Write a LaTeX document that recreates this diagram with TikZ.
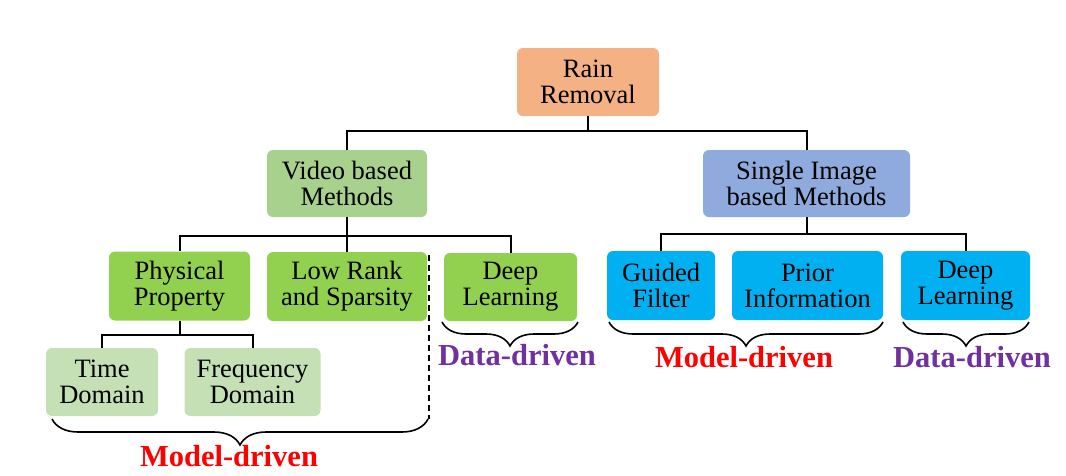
\documentclass[tikz,border=0pt]{standalone}
\usepackage{fontspec}
\setmainfont{Liberation Serif}
\usetikzlibrary{decorations.pathreplacing}
\definecolor{cRain}{HTML}{F4B183}
\definecolor{cVideo}{HTML}{A9D18E}
\definecolor{cSingle}{HTML}{8FAADC}
\definecolor{cGreen}{HTML}{92D050}
\definecolor{cLight}{HTML}{C5E0B4}
\definecolor{cBlue}{HTML}{00B0F0}
\definecolor{cPurple}{HTML}{7030A0}
\definecolor{cRed}{HTML}{FF0000}
\tikzset{
  box/.style={rectangle, rounded corners=6pt, inner sep=0pt, align=center,
    font=\fontsize{26.5}{26}\selectfont},
  conn/.style={draw=black, line width=2pt},
  bracel/.style={decorate, decoration={brace, mirror, amplitude=#1}, line width=1.6pt},
  lbl/.style={font=\fontsize{30.5}{32}\selectfont\bfseries, inner sep=0pt}
}
\begin{document}
\begin{tikzpicture}[x=1pt,y=-1pt]
\useasboundingbox (0,0) rectangle (1066,475);
% nodes
\node[box, fill=cRain, minimum width=142pt, minimum height=68pt] (rain) at (588,82) {Rain\\Removal};
\node[box, fill=cVideo, minimum width=160pt, minimum height=67pt] (video) at (347,183.5) {Video based\\Methods};
\node[box, fill=cSingle, minimum width=207pt, minimum height=67pt] (single) at (806.5,183.5) {Single Image\\based Methods};
\node[box, fill=cGreen, minimum width=141pt, minimum height=69pt] (phys) at (179.5,286) {Physical\\Property};
\node[box, fill=cGreen, minimum width=160pt, minimum height=69pt] (lowrank) at (347,286.5) {Low Rank\\and Sparsity};
\node[box, fill=cGreen, minimum width=133pt, minimum height=68pt] (dl1) at (510.5,287) {Deep\\Learning};
\node[box, fill=cLight, minimum width=112pt, minimum height=68pt] (time) at (102,382) {Time\\Domain};
\node[box, fill=cLight, minimum width=136pt, minimum height=68pt] (freq) at (252.5,382) {Frequency\\Domain};
\node[box, fill=cBlue, minimum width=108pt, minimum height=69pt] (guided) at (661,285.5) {Guided\\Filter};
\node[box, fill=cBlue, minimum width=151pt, minimum height=69pt] (prior) at (807.5,285.5) {Prior\\Information};
\node[box, fill=cBlue, minimum width=129pt, minimum height=69pt] (dl2) at (965.5,285.5) {Deep\\Learning};
% connectors
\draw[conn] (rain.south) -- (588,131) -| (video.north);
\draw[conn] (588,131) -| (single.north);
\draw[conn] (video.south) -- (347,236) -| (phys.north);
\draw[conn] (347,236) -| (dl1.north);
\draw[conn] (347,236) -- (lowrank.north);
\draw[conn] (single.south) -- (806.5,234) -| (guided.north);
\draw[conn] (806.5,234) -| (dl2.north);
\draw[conn] (phys.south) -- (179.5,335) -| (time.north);
\draw[conn] (179.5,335) -| (freq.north);
% dashed separator
\coordinate (dtop) at (429,255);
\coordinate (dbot) at (429,419);
\draw[line width=1.6pt, dashed, dash pattern=on 6pt off 4pt] (dtop) -- (dbot);
% braces
\coordinate (b1l) at (52,419);
\coordinate (b1r) at (428,419);
\draw[bracel=26pt] (b1l) -- (b1r);
\node[lbl, text=cRed] (md1) at (229,456) {Model-driven};
\coordinate (b2l) at (442,322);
\coordinate (b2r) at (578,322);
\draw[bracel=24pt] (b2l) -- (b2r);
\node[lbl, text=cPurple] (dd1) at (517,355) {Data-driven};
\coordinate (b3l) at (609,322);
\coordinate (b3r) at (883,322);
\draw[bracel=24pt] (b3l) -- (b3r);
\node[lbl, text=cRed] (md2) at (744,357) {Model-driven};
\coordinate (b4l) at (903,322);
\coordinate (b4r) at (1029,322);
\draw[bracel=24pt] (b4l) -- (b4r);
\node[lbl, text=cPurple] (dd2) at (972,357) {Data-driven};
\end{tikzpicture}
\end{document}
